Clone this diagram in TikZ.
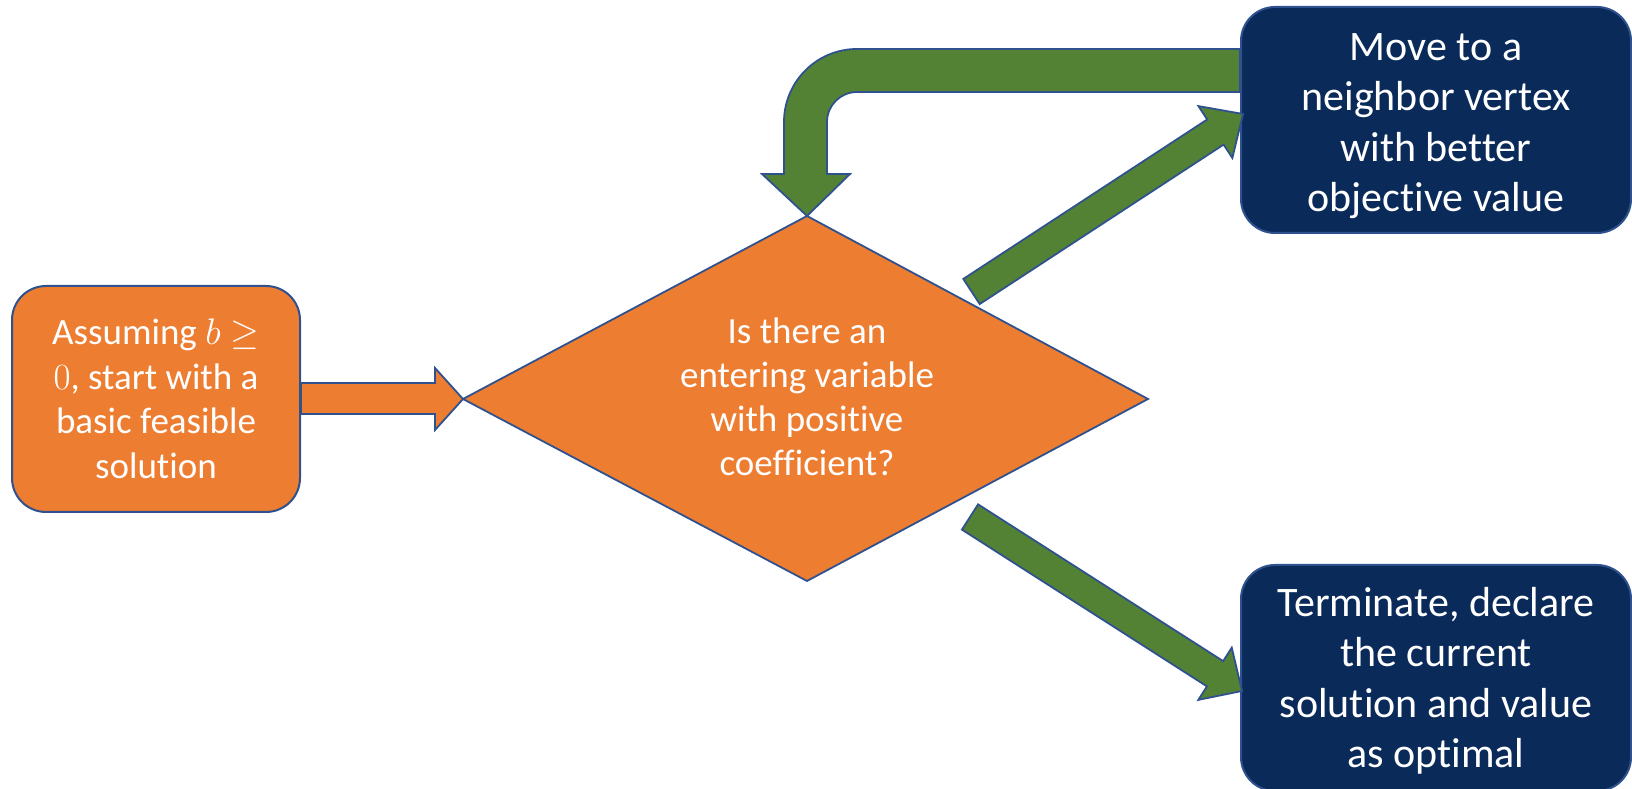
\RequirePackage{fix-cm}
\documentclass[tikz,border=0pt]{standalone}
\usepackage{fontspec}
\setmainfont[Ligatures={NoCommon}]{Carlito}
\usetikzlibrary{calc}
\definecolor{orng}{HTML}{ED7D31}
\definecolor{grn}{HTML}{548235}
\definecolor{navy}{HTML}{0A2A5A}
\definecolor{edge}{HTML}{2F528F}
\newcommand\blockarr[5]{%
  \path ($(#2)!#5!(#1)$) coordinate (hb);
  \filldraw[garrow] ($(#1)!#3!-90:(#2)$) -- ($(hb)!#3!-90:(#2)$) -- ($(hb)!#4!-90:(#2)$)
    -- (#2) -- ($(hb)!#4!90:(#2)$) -- ($(hb)!#3!90:(#2)$) -- ($(#1)!#3!90:(#2)$) -- cycle;}
\begin{document}
\begin{tikzpicture}[x=1pt,y=1pt,
  box/.style={draw=edge, line width=2pt, rounded corners=34pt, text=white, align=center,
    inner sep=0pt, minimum height=226pt},
  obox/.style={box, fill=orng, minimum width=288pt, font=\fontsize{37}{44.5}\selectfont},
  nbox/.style={box, fill=navy, minimum width=390pt},
  ntext/.style={text=white, align=center, inner sep=0pt, font=\fontsize{42}{50.5}\selectfont},
  garrow/.style={fill=grn, draw=edge, line width=1.8pt, line join=miter},
  oarrow/.style={fill=orng, draw=edge, line width=1.8pt, line join=miter}]
\useasboundingbox (0,0) rectangle (1632,789);

% nodes
\node[obox] (start) at (156,390) {Assuming $b\geq$\\$0$, start with a\\basic feasible\\solution};
\node[nbox] (move) at (1436,669) {};
\node[ntext] (movet) at ([yshift=-6pt]move.center) {Move to a\\neighbor vertex\\with better\\objective value};
\node[nbox] (term) at (1436,111) {};
\node[ntext] (termt) at ([yshift=-3pt]term.center) {Terminate, declare\\the current\\solution and value\\as optimal};

\coordinate (dtop) at (807,573);
\coordinate (dright) at (1148,390);
\coordinate (dbot) at (807,208);
\coordinate (dleft) at (463,390);
\filldraw[fill=orng, draw=edge, line width=1.8pt] (dtop) -- (dright) -- (dbot) -- (dleft) -- cycle;
\node[text=white, align=center, font=\fontsize{37}{44}\selectfont] (q) at (807,392)
  {Is there an\\entering variable\\with positive\\coefficient?};

% orange arrow start -> diamond
\filldraw[oarrow] (start.east |- 0,406) -- (435,406) -- (435,421) -- (dleft) -- (435,359)
  -- (435,375) -- (start.east |- 0,375) -- cycle;

% U-turn arrow move -> diamond
\filldraw[garrow] (move.west |- 0,740) -- (857,740) arc[start angle=90, end angle=180, radius=73]
  -- (784,615) -- (762,615) -- (dtop) -- (850,615) -- (827,615) -- (827,667)
  arc[start angle=180, end angle=90, radius=30] -- (move.west |- 0,697) -- cycle;

% diagonal arrows
\coordinate (ua1) at (971.5,497.5);
\coordinate (ua2) at (1243,675);
\blockarr{ua1}{ua2}{15pt}{31pt}{33pt}
\coordinate (la1) at (970,272);
\coordinate (la2) at (1242,98);
\blockarr{la1}{la2}{15pt}{31pt}{32pt}
\end{tikzpicture}
\end{document}
